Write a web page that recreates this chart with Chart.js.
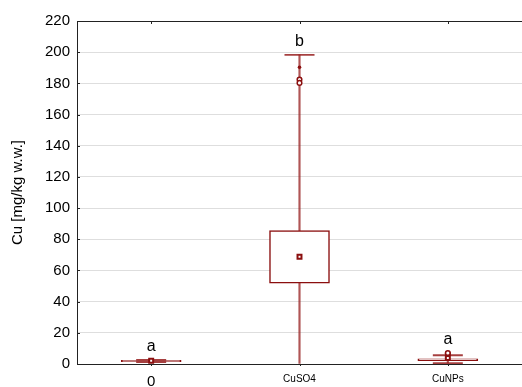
<!DOCTYPE html>
<html lang="en">
<head>
    <meta charset="UTF-8">
    <title>Cu content</title>
    <script src="https://cdn.jsdelivr.net/npm/chart.js"></script>
    <style>
        body { margin: 0; background: #fff; }
        #wrap { width: 522px; height: 387px; }
    </style>
</head>
<body>
<div id="wrap"><canvas id="cuChart"></canvas></div>

<script>
    // data
    var groups = ['0', 'CuSO4', 'CuNPs'];
    var whiskerLow = [1.2, 0, 0.6];
    var boxLow = [1.5, 51.8, 2.2];
    var boxHigh = [2.3, 85.5, 3.3];
    var whiskerHigh = [2.6, 198.3, 5.6];
    var means = [2.1, 68.8, 3.9];
    var outliers = [{ x: 'CuSO4', y: 182.4 }, { x: 'CuSO4', y: 180.3 }, { x: 'CuNPs', y: 6.6 }, { x: 'CuNPs', y: 7.1 }];
    var extremes = [{ x: 'CuSO4', y: 190.3 }];
    var letters = ['a', 'b', 'a'];
    var yTicks = [0, 20, 40, 60, 80, 100, 120, 140, 160, 180, 200, 220];

    var red = '#8b0f0f';
    var font = 'Liberation Sans, Arial, sans-serif';

    function pts(arr) {
        return arr.map(function (v, i) { return { x: groups[i], y: v }; });
    }

    // frame, inside ticks and group letters
    var extras = {
        id: 'extras',
        afterDatasetsDraw: function (chart) {
            var c = chart.ctx, a = chart.chartArea;
            var xs = chart.scales.x, ys = chart.scales.y;
            c.save();
            c.strokeStyle = '#222';
            c.lineWidth = 1;
            c.beginPath();
            c.moveTo(a.left, a.top + 0.5);
            c.lineTo(a.right, a.top + 0.5);
            groups.forEach(function (g, i) {
                var px = Math.round(xs.getPixelForValue(i)) + 0.5;
                c.moveTo(px, a.top);
                c.lineTo(px, a.top + 3);
                c.moveTo(px, a.bottom);
                c.lineTo(px, a.bottom + 2);
            });
            yTicks.forEach(function (t) {
                var py = Math.round(ys.getPixelForValue(t)) + 0.5;
                c.moveTo(a.left, py);
                c.lineTo(a.left + 3, py);
            });
            c.stroke();

            c.fillStyle = '#000';
            c.font = '16px ' + font;
            c.textAlign = 'center';
            c.textBaseline = 'alphabetic';
            groups.forEach(function (g, i) {
                var top = whiskerHigh[i];
                outliers.concat(extremes).forEach(function (o) {
                    if (o.x === g && o.y > top) top = o.y;
                });
                c.fillText(letters[i], xs.getPixelForValue(i), ys.getPixelForValue(top) - 9);
            });
            c.restore();
        }
    };

    var ctx = document.getElementById('cuChart').getContext('2d');
    var cuChart = new Chart(ctx, {
        type: 'bar',
        data: {
            labels: groups,
            datasets: [
                {
                    // whisker stems
                    data: whiskerLow.map(function (v, i) { return [v, whiskerHigh[i]]; }),
                    backgroundColor: 'rgba(150,30,30,0.75)',
                    barThickness: 1.5,
                    grouped: false,
                    order: 5
                },
                {
                    // boxes
                    data: boxLow.map(function (v, i) { return [v, boxHigh[i]]; }),
                    backgroundColor: '#fff',
                    borderColor: red,
                    borderWidth: 1.5,
                    borderSkipped: false,
                    barThickness: 60,
                    grouped: false,
                    order: 4
                },
                {
                    type: 'line',
                    data: pts(whiskerHigh).concat(pts(whiskerLow).filter(function (p) { return p.y > 0; })),
                    showLine: false,
                    pointStyle: 'line',
                    pointRadius: 15,
                    borderColor: 'rgba(150,30,30,0.85)',
                    borderWidth: 1.8,
                    order: 3
                },
                {
                    type: 'line',
                    data: pts(means),
                    showLine: false,
                    pointStyle: 'rect',
                    pointRadius: 2.8,
                    backgroundColor: '#fff',
                    borderColor: red,
                    borderWidth: 2,
                    order: 1
                },
                {
                    type: 'line',
                    data: outliers,
                    showLine: false,
                    pointStyle: 'circle',
                    pointRadius: 2.3,
                    backgroundColor: '#fff',
                    borderColor: red,
                    borderWidth: 1.5,
                    order: 1
                },
                {
                    type: 'line',
                    data: extremes,
                    showLine: false,
                    pointStyle: 'circle',
                    pointRadius: 1.8,
                    backgroundColor: red,
                    borderColor: red,
                    borderWidth: 0,
                    order: 1
                }
            ]
        },
        options: {
            responsive: true,
            maintainAspectRatio: false,
            animation: false,
            layout: { autoPadding: false, padding: { top: 21, right: 0, left: 0, bottom: 0 } },
            plugins: { legend: { display: false }, tooltip: { enabled: false } },
            scales: {
                x: {
                    grid: { display: false },
                    border: { color: '#222' },
                    ticks: {
                        color: '#000',
                        padding: 1,
                        font: function (c) {
                            return { family: font, size: c.index === 0 ? 15 : 10 };
                        }
                    },
                    afterFit: function (s) { s.height = 23; }
                },
                y: {
                    min: 0,
                    max: 220,
                    grid: { color: '#dedede', drawTicks: false },
                    border: { color: '#222' },
                    ticks: {
                        stepSize: 20,
                        padding: 7,
                        color: '#000',
                        font: { family: font, size: 15 }
                    },
                    title: {
                        display: true,
                        text: 'Cu [mg/kg w.w.]',
                        color: '#000',
                        font: { family: font, size: 15 },
                        padding: { top: 9, bottom: 0 }
                    },
                    afterFit: function (s) { s.width = 77; }
                }
            }
        },
        plugins: [extras]
    });
</script>
</body>
</html>
